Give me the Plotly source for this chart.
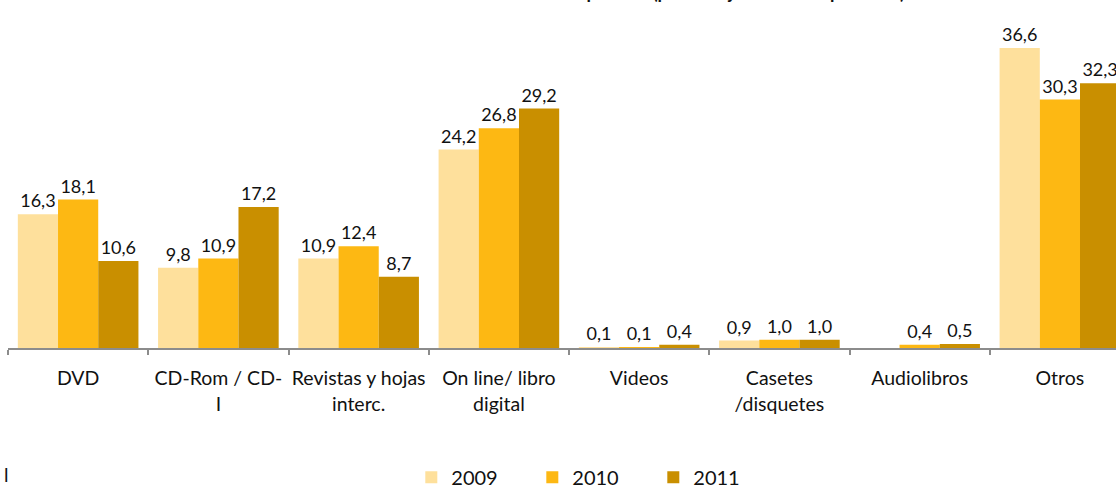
import plotly.graph_objects as go

categories = ["DVD", "CD-Rom / CD-<br>I", "Revistas y hojas<br>interc.", "On line/ libro<br>digital",
              "Videos", "Casetes<br>/disquetes", "Audiolibros", "Otros"]
years = ["2009", "2010", "2011"]
v2009 = [16.3, 9.8, 10.9, 24.2, 0.1, 0.9, 0.0, 36.6]
v2010 = [18.1, 10.9, 12.4, 26.8, 0.1, 1.0, 0.4, 30.3]
v2011 = [10.6, 17.2, 8.7, 29.2, 0.4, 1.0, 0.5, 32.3]
labels2009 = ["16,3", "9,8", "10,9", "24,2", "0,1", "0,9", "", "36,6"]
labels2010 = ["18,1", "10,9", "12,4", "26,8", "0,1", "1,0", "0,4", "30,3"]
labels2011 = ["10,6", "17,2", "8,7", "29,2", "0,4", "1,0", "0,5", "32,3"]
colors = ["#FEE09C", "#FDB813", "#C98F00"]

FONT = "Lato, 'Open Sans', sans-serif"

fig = go.Figure()
for name, vals, labs, col in zip(years, [v2009, v2010, v2011],
                                 [labels2009, labels2010, labels2011], colors):
    fig.add_trace(go.Bar(
        x=categories, y=vals, name=name, marker_color=col, marker_line_width=0,
        text=labs, textposition="outside", cliponaxis=False,
        textfont=dict(size=18, color="#111111", family=FONT),
    ))

fig.update_layout(
    width=1116, height=488,
    margin=dict(l=8, r=0, t=20, b=140, autoexpand=False),
    paper_bgcolor="white", plot_bgcolor="white",
    barmode="group", bargap=0.14, bargroupgap=0,
    font=dict(family=FONT, size=18, color="#111111"),
    showlegend=True,
    legend=dict(orientation="h", x=0.364, y=0.022, xref="paper", yref="container",
                xanchor="left", yanchor="middle",
                entrywidth=76, entrywidthmode="pixels",
                font=dict(size=20, family=FONT, color="#111111"),
                itemclick=False, itemdoubleclick=False),
    xaxis=dict(range=[-0.5, 7.4], showline=True, linecolor="#8C8C8C", linewidth=1.5,
               ticks="outside", tickson="boundaries", ticklen=5, tickcolor="#8C8C8C",
               tickwidth=1.5, showgrid=False, automargin=False, ticklabelstandoff=12,
               tickangle=0,
               tickfont=dict(size=19.5, family=FONT, color="#111111"),
               fixedrange=True),
    yaxis=dict(range=[0, 40], visible=False, showgrid=False, zeroline=False,
               automargin=False, fixedrange=True),
)

fig.add_annotation(text="<b>Medios empleados (porcentaje sobre compradores)</b>",
                   xref="paper", yref="paper", x=0.626, y=1.0, yshift=15,
                   xanchor="center", yanchor="bottom", showarrow=False,
                   font=dict(size=18, family=FONT, color="#111111"))
fig.add_annotation(text="l", xref="paper", yref="paper", x=0, xshift=-6, y=-0.387,
                   xanchor="left", yanchor="middle", showarrow=False,
                   font=dict(size=19, family=FONT, color="#111111"))

fig.write_html("out.html", config={"displayModeBar": False},
               post_script="document.body.style.margin='0';document.body.style.overflow='hidden';")
